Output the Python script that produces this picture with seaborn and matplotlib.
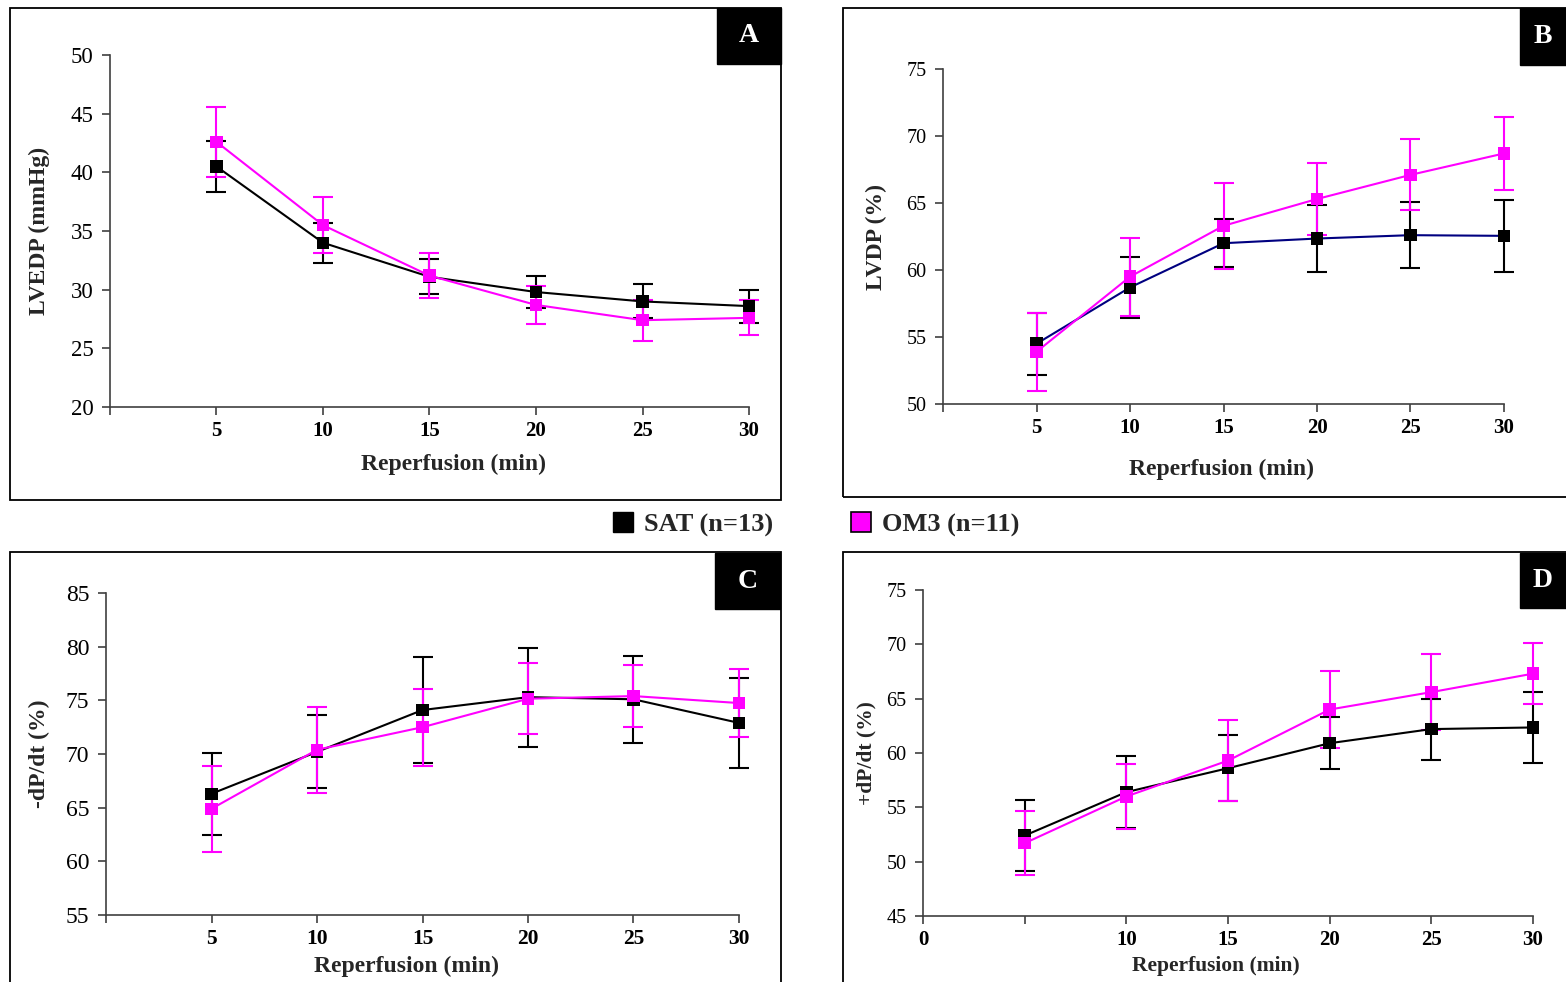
import numpy as np
import pandas as pd
import matplotlib
matplotlib.use("Agg")
import matplotlib.pyplot as plt
import seaborn as sns
from matplotlib.lines import Line2D
from matplotlib.patches import Rectangle

# Data (mean +/- SE)
time_min = [5, 10, 15, 20, 25, 30]

lvedp_sat = [40.5, 34.0, 31.1, 29.8, 29.0, 28.6]
lvedp_sat_se = [2.2, 1.7, 1.5, 1.4, 1.45, 1.4]
lvedp_om3 = [42.6, 35.5, 31.2, 28.7, 27.4, 27.6]
lvedp_om3_se = [3.0, 2.4, 1.95, 1.6, 1.75, 1.5]

lvdp_sat = [54.5, 58.7, 62.0, 62.35, 62.6, 62.55]
lvdp_sat_se = [2.3, 2.3, 1.8, 2.5, 2.45, 2.7]
lvdp_om3 = [53.9, 59.5, 63.3, 65.3, 67.1, 68.7]
lvdp_om3_se = [2.9, 2.9, 3.2, 2.7, 2.65, 2.7]

dpdt_min_sat = [66.3, 70.2, 74.1, 75.3, 75.1, 72.9]
dpdt_min_sat_se = [3.8, 3.4, 4.95, 4.6, 4.05, 4.2]
dpdt_min_om3 = [64.9, 70.4, 72.5, 75.15, 75.4, 74.75]
dpdt_min_om3_se = [4.0, 4.0, 3.6, 3.3, 2.9, 3.15]

dpdt_max_sat = [52.4, 56.4, 58.6, 60.9, 62.2, 62.35]
dpdt_max_sat_se = [3.3, 3.3, 3.05, 2.4, 2.8, 3.25]
dpdt_max_om3 = [51.7, 56.0, 59.3, 64.0, 65.6, 67.3]
dpdt_max_om3_se = [2.95, 2.95, 3.7, 3.5, 3.5, 2.8]

SAT = "SAT (n=13)"
OM3 = "OM3 (n=11)"
MAGENTA = "#FF00FF"
BLACK = "#000000"
NAVY = "#000080"
AXIS_GREY = "#404040"

sns.set_theme(style="white")
plt.rcParams['font.family'] = ['Liberation Serif', 'DejaVu Serif']

fig = plt.figure(figsize=(15.66, 9.82), dpi=100)


def draw_panel(rect, sat, sat_se, om3, om3_se, ylim, yticks, ylabel,
               xticklabels, sat_line, ytick_fs, xtick_fs, label_fs,
               ylab_x, xlab_xy):
    ax = fig.add_axes(rect)
    df = pd.DataFrame({
        'time': time_min * 2,
        'value': sat + om3,
        'group': [SAT] * len(sat) + [OM3] * len(om3),
    })
    ax.errorbar(time_min, sat, yerr=sat_se, fmt='none', ecolor=BLACK,
                elinewidth=1.5, capsize=7, capthick=1.5, zorder=2)
    ax.errorbar(time_min, om3, yerr=om3_se, fmt='none', ecolor=MAGENTA,
                elinewidth=1.5, capsize=7, capthick=1.5, zorder=3)
    sns.lineplot(data=df, x='time', y='value', hue='group',
                 palette={SAT: sat_line, OM3: MAGENTA}, linewidth=1.5,
                 legend=False, ax=ax, zorder=4)
    sns.scatterplot(data=df, x='time', y='value', hue='group',
                    palette={SAT: BLACK, OM3: MAGENTA}, marker='s', s=80,
                    edgecolor='none', legend=False, ax=ax, zorder=5)
    # let the marks at x=30 spill past the axis end like the original
    for artist in ax.lines + ax.collections:
        artist.set_clip_on(False)

    ax.set_xlim(0, 30)
    ax.set_ylim(*ylim)
    ax.set_xticks([0, 5, 10, 15, 20, 25, 30])
    ax.set_xticklabels(xticklabels, fontweight='bold', fontsize=xtick_fs)
    ax.set_yticks(yticks)
    ax.set_yticklabels([str(t) for t in yticks], fontsize=ytick_fs)
    for side in ['top', 'right']:
        ax.spines[side].set_visible(False)
    for side in ['left', 'bottom']:
        ax.spines[side].set_color(AXIS_GREY)
        ax.spines[side].set_linewidth(1.2)
    ax.tick_params(axis='both', direction='out', length=6, width=1.2,
                   color=AXIS_GREY, labelcolor='black')
    ax.tick_params(axis='y', pad=6, left=True)
    ax.tick_params(axis='x', pad=4, bottom=True)
    ax.set_ylabel(ylabel, fontweight='bold', fontsize=label_fs)
    ax.yaxis.set_label_coords(ylab_x, 0.5)
    ax.set_xlabel("Reperfusion (min)", fontweight='bold', fontsize=label_fs)
    ax.xaxis.set_label_coords(*xlab_xy)
    ax.patch.set_alpha(0)
    return ax


labels_abc = ['', '5', '10', '15', '20', '25', '30']
labels_d = ['0', '', '10', '15', '20', '25', '30']

# A
draw_panel([0.0702, 0.5855, 0.4081, 0.3585], lvedp_sat, lvedp_sat_se,
           lvedp_om3, lvedp_om3_se, (20, 50), [20, 25, 30, 35, 40, 45, 50],
           "LVEDP (mmHg)", labels_abc, BLACK, 16.5, 15, 17, -0.094,
           (0.537, -0.133))
# B
draw_panel([0.6022, 0.5886, 0.3582, 0.3411], lvdp_sat, lvdp_sat_se,
           lvdp_om3, lvdp_om3_se, (50, 75), [50, 55, 60, 65, 70, 75],
           "LVDP (%)", labels_abc, NAVY, 14.5, 15, 17, -0.100,
           (0.497, -0.165))
# C
draw_panel([0.0677, 0.0682, 0.4042, 0.3279], dpdt_min_sat, dpdt_min_sat_se,
           dpdt_min_om3, dpdt_min_om3_se, (55, 85),
           [55, 60, 65, 70, 75, 80, 85], "-dP/dt (%)", labels_abc, BLACK,
           17, 15.5, 17, -0.088, (0.474, -0.127))
# D
draw_panel([0.5894, 0.0672, 0.3895, 0.3320], dpdt_max_sat, dpdt_max_sat_se,
           dpdt_max_om3, dpdt_max_om3_se, (45, 75),
           [45, 50, 55, 60, 65, 70, 75], "+dP/dt (%)", labels_d, BLACK,
           14.5, 15, 15.5, -0.077, (0.480, -0.124))

# panel frames
W, H = 1566.0, 982.0
frames = [(10, 8, 781, 500), (843, 8, 1580, 497),
          (10, 552, 781, 1000), (843, 552, 1580, 1000)]
for x0, y0, x1, y1 in frames:
    fig.add_artist(Rectangle((x0 / W, 1 - y1 / H), (x1 - x0) / W, (y1 - y0) / H,
                             transform=fig.transFigure, fill=False,
                             edgecolor='black', linewidth=1.3, zorder=0))

# panel letters
letters = [("A", 717, 8, 781, 64), ("B", 1520, 8, 1580, 65),
           ("C", 715, 553, 780, 609), ("D", 1520, 553, 1580, 608)]
for letter, x0, y0, x1, y1 in letters:
    fig.add_artist(Rectangle((x0 / W, 1 - y1 / H), (x1 - x0) / W, (y1 - y0) / H,
                             transform=fig.transFigure, facecolor='black',
                             edgecolor='black', zorder=6))
    cx = (x0 + min(x1, 1566)) / 2 / W
    cy = 1 - (y0 + y1) / 2 / H
    fig.text(cx, cy, letter, color='white', fontsize=20, fontweight='bold',
             ha='center', va='center', zorder=7)

# legend
handles = [
    Line2D([], [], linestyle='none', marker='s', markersize=14,
           markerfacecolor=BLACK, markeredgecolor=BLACK),
    Line2D([], [], linestyle='none', marker='s', markersize=14,
           markerfacecolor=MAGENTA, markeredgecolor=BLACK, markeredgewidth=1.2),
]
leg = fig.legend(handles, [SAT, OM3], loc='center', ncol=2, frameon=False,
                 bbox_to_anchor=(0.521, 0.4654), handlelength=0.8,
                 handletextpad=0.4, columnspacing=2.9, borderpad=0,
                 prop={'family': 'Liberation Serif', 'weight': 'bold', 'size': 19})

fig.savefig("out.png", dpi=100)
